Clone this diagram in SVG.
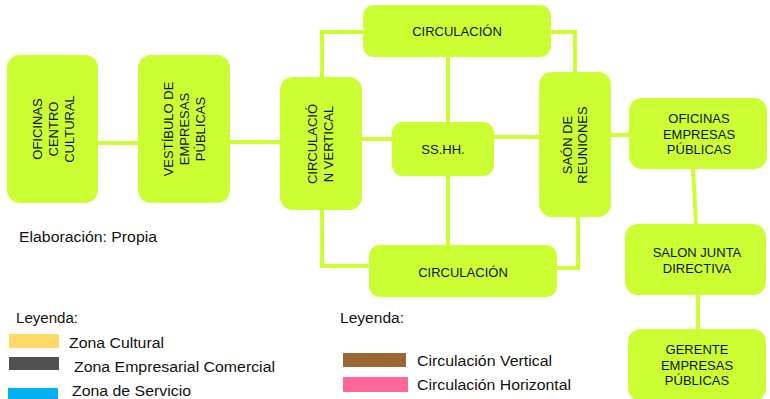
<svg xmlns="http://www.w3.org/2000/svg" width="770" height="399" viewBox="0 0 770 399">
<style>
.n{fill:#CCFF33;}
.t{font-family:"Liberation Sans",Arial,sans-serif;font-size:13px;fill:#111;text-anchor:middle;}
.l{font-family:"Liberation Sans",Arial,sans-serif;font-size:14px;fill:#111;}
.c{fill:none;stroke:#CCFF33;stroke-width:4;}
</style>
<rect width="770" height="399" fill="#fff"/>
<g id="connectors">
<path class="c" d="M98,143 H138"/>
<path class="c" d="M230,142 H280"/>
<path class="c" d="M363,32 H322 V77"/>
<path class="c" d="M551,32 H575 V72"/>
<path class="c" d="M448,57 V122"/>
<path class="c" d="M362,139 H392"/>
<path class="c" d="M494,137 H539"/>
<path class="c" d="M448,176 V245"/>
<path class="c" d="M322,210 V266 H369"/>
<path class="c" d="M578,217 V268 H557"/>
<path class="c" d="M611,135 H629"/>
<path class="c" d="M693,169 L696,224"/>
<path class="c" d="M698,295 V329"/>
</g>
<g id="oficinas-centro-cultural">
<rect class="n" x="7" y="55" width="91" height="148" rx="13"/>
<text class="t" transform="translate(52.5,129) rotate(-90)"><tspan x="0" y="-11">OFICINAS</tspan><tspan x="0" y="5">CENTRO</tspan><tspan x="0" y="21">CULTURAL</tspan></text>
</g>
<g id="vestibulo">
<rect class="n" x="138" y="55" width="92" height="148" rx="13"/>
<text class="t" transform="translate(184,129) rotate(-90)"><tspan x="0" y="-11">VESTÍBULO DE</tspan><tspan x="0" y="5">EMPRESAS</tspan><tspan x="0" y="21">PÚBLICAS</tspan></text>
</g>
<g id="circulacion-vertical">
<rect class="n" x="280" y="77" width="82" height="133" rx="13"/>
<text class="t" transform="translate(321,144) rotate(-90)"><tspan x="0" y="-4">CIRCULACIÓ</tspan><tspan x="0" y="12">N VERTICAL</tspan></text>
</g>
<g id="circulacion-top">
<rect class="n" x="363" y="5" width="188" height="52" rx="11"/>
<text class="t" x="457" y="36">CIRCULACIÓN</text>
</g>
<g id="sshh">
<rect class="n" x="392" y="122" width="102" height="54" rx="11"/>
<text class="t" x="443" y="154">SS.HH.</text>
</g>
<g id="circulacion-bottom">
<rect class="n" x="369" y="245" width="188" height="52" rx="11"/>
<text class="t" x="463" y="277">CIRCULACIÓN</text>
</g>
<g id="salon-reuniones">
<rect class="n" x="539" y="72" width="72" height="145" rx="13"/>
<text class="t" transform="translate(575,145) rotate(-90)"><tspan x="0" y="-3">SAÓN DE</tspan><tspan x="0" y="12">REUNIONES</tspan></text>
</g>
<g id="oficinas-empresas-publicas">
<rect class="n" x="629" y="98" width="138" height="71" rx="13"/>
<text class="t"><tspan x="699" y="123">OFICINAS</tspan><tspan x="699" y="138.5">EMPRESAS</tspan><tspan x="699" y="154">PÚBLICAS</tspan></text>
</g>
<g id="salon-junta-directiva">
<rect class="n" x="625" y="224" width="141" height="71" rx="13"/>
<text class="t"><tspan x="697" y="257">SALON JUNTA</tspan><tspan x="697" y="273">DIRECTIVA</tspan></text>
</g>
<g id="gerente">
<rect class="n" x="628" y="329" width="138" height="72" rx="13"/>
<text class="t"><tspan x="697" y="354">GERENTE</tspan><tspan x="697" y="369.5">EMPRESAS</tspan><tspan x="697" y="385">PÚBLICAS</tspan></text>
</g>
<g id="notes">
<text class="l" x="19" y="242" textLength="138" lengthAdjust="spacingAndGlyphs">Elaboración: Propia</text>
<text class="l" x="16" y="323" textLength="62" lengthAdjust="spacingAndGlyphs">Leyenda:</text>
<rect x="9" y="334" width="50" height="14" fill="#FFD966"/>
<text class="l" x="69" y="348" textLength="95" lengthAdjust="spacingAndGlyphs">Zona Cultural</text>
<rect x="9" y="357" width="50" height="13" fill="#505050"/>
<text class="l" x="74" y="372" textLength="201" lengthAdjust="spacingAndGlyphs">Zona Empresarial Comercial</text>
<rect x="8" y="388" width="50" height="12" fill="#00B0F0"/>
<text class="l" x="72" y="396" textLength="119" lengthAdjust="spacingAndGlyphs">Zona de Servicio</text>
<text class="l" x="340" y="323" textLength="64" lengthAdjust="spacingAndGlyphs">Leyenda:</text>
<rect x="343" y="353" width="63" height="14" fill="#996633"/>
<text class="l" x="417" y="366" textLength="135" lengthAdjust="spacingAndGlyphs">Circulación Vertical</text>
<rect x="343" y="377" width="65" height="15" fill="#FF6699"/>
<text class="l" x="417" y="390" textLength="154" lengthAdjust="spacingAndGlyphs">Circulación Horizontal</text>
</g>
</svg>
